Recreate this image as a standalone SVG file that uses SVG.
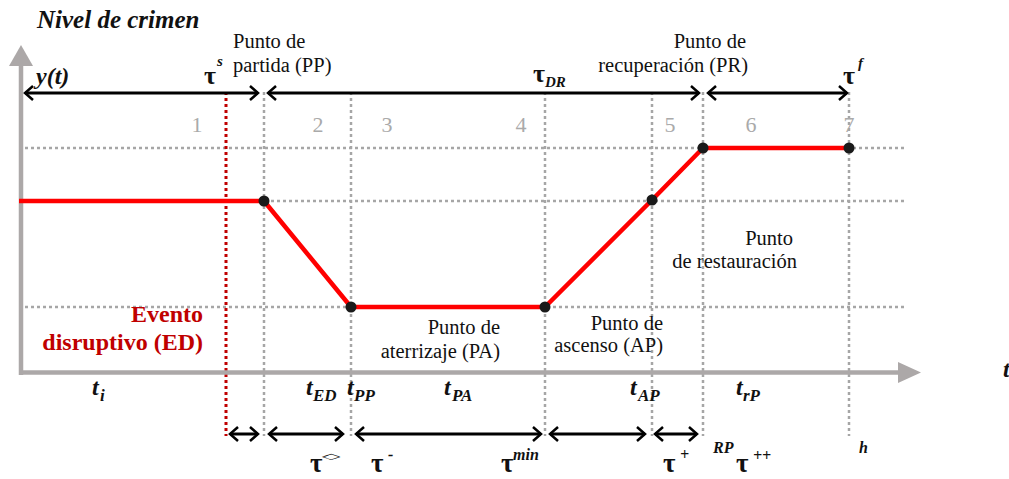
<svg xmlns="http://www.w3.org/2000/svg" width="1009" height="479" viewBox="0 0 1009 479">
<style>
text{font-family:"Liberation Serif","Times New Roman",serif;}
.reg{font-size:20.5px;fill:#111;}
.num{font-size:22px;fill:#aaa;text-anchor:middle;}
.bi{font-weight:bold;font-style:italic;fill:#111;}
.tau{font-size:26px;font-weight:bold;fill:#111;}
.taub{font-size:27px;font-weight:bold;fill:#111;}
.red{font-size:24px;font-weight:bold;fill:#c00000;text-anchor:end;}
.end{text-anchor:end;}
.grid{stroke:#a6a6a6;stroke-width:2.5;stroke-dasharray:3 3;fill:none;}
.arr{stroke:#000;stroke-width:3;fill:none;marker-start:url(#chev);marker-end:url(#chev);}
.axis{stroke:#aca8a8;stroke-width:4.5;fill:none;}
.dot{fill:#1a1a1a;}
</style>
<defs>
<marker id="chev" markerUnits="userSpaceOnUse" markerWidth="20" markerHeight="20" viewBox="-10 -10 20 20" refX="0" refY="0" orient="auto-start-reverse">
<path d="M-8,-7 L0,0 L-8,7" stroke="#000" stroke-width="2.5" fill="none"/>
</marker>
</defs>
<rect width="1009" height="479" fill="#fff"/>
<g id="grid">
<line class="grid" x1="25" y1="148" x2="904" y2="148"/>
<line class="grid" x1="25" y1="201" x2="904" y2="201"/>
<line class="grid" x1="25" y1="307" x2="904" y2="307"/>
<line class="grid" x1="264" y1="92" x2="264" y2="436"/>
<line class="grid" x1="351" y1="92" x2="351" y2="436"/>
<line class="grid" x1="545" y1="92" x2="545" y2="436"/>
<line class="grid" x1="652" y1="92" x2="652" y2="436"/>
<line class="grid" x1="703" y1="92" x2="703" y2="436"/>
<line class="grid" x1="849" y1="92" x2="849" y2="436"/>
<line x1="226" y1="92" x2="226" y2="436" stroke="#c00000" stroke-width="3" stroke-dasharray="3 3"/>
</g>
<g id="axes">
<line class="axis" x1="21" y1="64" x2="21" y2="375"/>
<polygon points="21,45 9,66 33,66" fill="#aca8a8"/>
<line class="axis" x1="19" y1="372.5" x2="899" y2="372.5"/>
<polygon points="898,362 921,372.5 898,383" fill="#aca8a8"/>
</g>
<g id="numbers">
<text class="num" x="197" y="132">1</text>
<text class="num" x="318" y="132">2</text>
<text class="num" x="387" y="132">3</text>
<text class="num" x="521" y="132">4</text>
<text class="num" x="670" y="132">5</text>
<text class="num" x="751" y="132">6</text>
<text class="num" x="849" y="132">7</text>
</g>
<g id="curve">
<polyline points="19,201 264,201 351,307 545,307 652,200 703,148 849,148" stroke="#ff0000" stroke-width="4.5" fill="none" stroke-linejoin="round"/>
</g>
<g id="points">
<circle id="pt-PP" class="dot" cx="264" cy="201" r="5.5"/>
<circle id="pt-PA" class="dot" cx="351" cy="307" r="5.5"/>
<circle id="pt-min" class="dot" cx="545" cy="307" r="5.5"/>
<circle id="pt-AP" class="dot" cx="652" cy="200" r="5.5"/>
<circle id="pt-PR" class="dot" cx="703" cy="148" r="5.5"/>
<circle id="pt-f" class="dot" cx="849" cy="148" r="5.5"/>
</g>
<g id="connectors">
<line class="arr" x1="25" y1="93" x2="258" y2="93"/>
<line class="arr" x1="268" y1="93" x2="699" y2="93"/>
<line class="arr" x1="708" y1="93" x2="847" y2="93"/>
<line class="arr" x1="230" y1="434" x2="258" y2="434"/>
<line class="arr" x1="269" y1="434" x2="343" y2="434"/>
<line class="arr" x1="356" y1="434" x2="541" y2="434"/>
<line class="arr" x1="550" y1="434" x2="645" y2="434"/>
<line class="arr" x1="655" y1="434" x2="697" y2="434"/>
</g>
<g id="labels-top">
<text class="bi" x="37" y="28" font-size="25">Nivel de crimen</text>
<text class="bi" x="36" y="84" font-size="24">y(t)</text>
<text class="tau" x="204" y="84">τ</text>
<text class="bi" x="217" y="66" font-size="15">s</text>
<text class="reg" x="233" y="48">Punto de</text>
<text class="reg" x="233" y="72">partida (PP)</text>
<text class="tau" x="533" y="82">τ</text>
<text class="bi" x="545" y="87" font-size="15">DR</text>
<text class="reg end" x="746" y="48">Punto de</text>
<text class="reg end" x="748" y="72">recuperación (PR)</text>
<text class="tau" x="843" y="84">τ</text>
<text class="bi" x="858" y="68" font-size="15">f</text>
</g>
<g id="labels-plot">
<text class="red" x="203" y="322">Evento</text>
<text class="red" x="203" y="350">disruptivo (ED)</text>
<text class="reg end" x="500" y="334">Punto de</text>
<text class="reg end" x="500" y="358">aterrizaje (PA)</text>
<text class="reg end" x="663" y="330">Punto de</text>
<text class="reg end" x="663" y="352">ascenso (AP)</text>
<text class="reg end" x="793" y="245">Punto</text>
<text class="reg end" x="797" y="268">de restauración</text>
</g>
<g id="labels-t" class="bi">
<text x="92" y="395" font-size="24">t</text><text x="100" y="401" font-size="17">i</text>
<text x="306" y="395" font-size="24">t</text><text x="313" y="401" font-size="17">ED</text>
<text x="347" y="395" font-size="24">t</text><text x="354" y="401" font-size="17">PP</text>
<text x="444" y="395" font-size="24">t</text><text x="452" y="401" font-size="17">PA</text>
<text x="630" y="395" font-size="24">t</text><text x="638" y="401" font-size="17">AP</text>
<text x="736" y="395" font-size="24">t</text><text x="743" y="401" font-size="17">rP</text>
<text x="1003" y="377" font-size="24">t</text>
</g>
<g id="labels-tau-bottom">
<text class="taub" x="310" y="472">τ</text>
<text transform="translate(332,459) scale(1.8,0.6)" font-family="DejaVu Sans" font-size="14" text-anchor="middle" fill="#111">◇</text>
<text class="taub" x="371" y="472">τ</text>
<text class="bi" x="388" y="460" font-size="16">-</text>
<text class="taub" x="501" y="472">τ</text>
<text class="bi" x="513" y="460" font-size="16">min</text>
<text class="taub" x="663" y="472">τ</text>
<text class="bi" x="680" y="460" font-size="16">+</text>
<text class="bi" x="713" y="453" font-size="16">RP</text>
<text class="taub" x="736" y="472">τ</text>
<text class="bi" x="753" y="461" font-size="16">++</text>
<text class="bi" x="859" y="453" font-size="16">h</text>
</g>
</svg>
